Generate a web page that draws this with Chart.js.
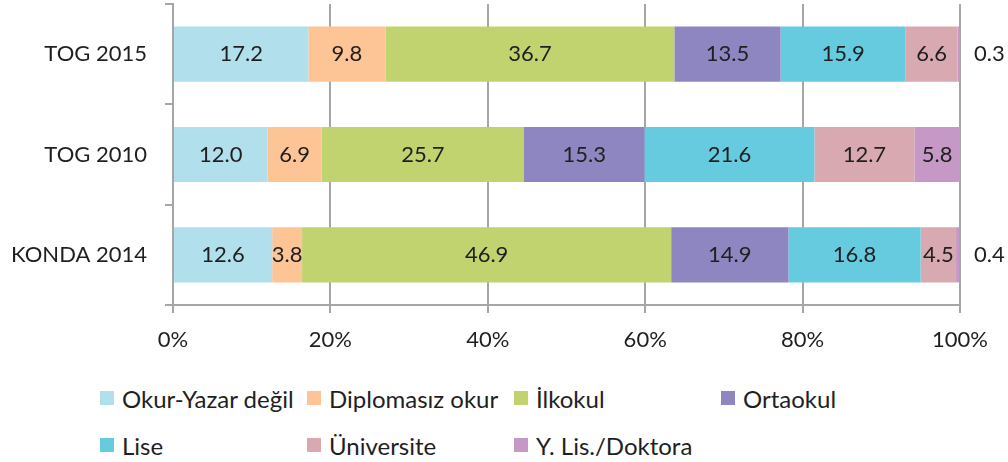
<!DOCTYPE html>
<html>
<head>
<meta charset="utf-8">
<script src="https://cdn.jsdelivr.net/npm/chart.js@4"></script>
<style>
  body { margin: 0; background: #fff; }
  #wrap { position: relative; width: 1008px; height: 462px; }
  #chart-box { position: absolute; left: 0; top: 0; width: 1008px; height: 370px; }
  .leg { position: absolute; font-family: Lato, sans-serif; font-size: 24px; color: #1f1f1f;
         display: flex; align-items: center; white-space: nowrap; height: 30px; }
  .leg i { display: inline-block; width: 14px; height: 14px; margin-right: 8px; }
</style>
</head>
<body>
<div id="wrap">
  <div id="chart-box"><canvas id="bar-chart"></canvas></div>
  <div id="legend"></div>
</div>
<script>
const categories = ["TOG 2015", "TOG 2010", "KONDA 2014"];
const seriesNames = ["Okur-Yazar değil", "Diplomasız okur", "İlkokul", "Ortaokul", "Lise", "Üniversite", "Y. Lis./Doktora"];
const okurYazarDegil = [17.2, 12.0, 12.6];
const diplomasizOkur = [9.8, 6.9, 3.8];
const ilkokul = [36.7, 25.7, 46.9];
const ortaokul = [13.5, 15.3, 14.9];
const lise = [15.9, 21.6, 16.8];
const universite = [6.6, 12.7, 4.5];
const yLisDoktora = [0.3, 5.8, 0.4];
const xTicks = [0, 20, 40, 60, 80, 100];

const colors = ["#b1dfeb", "#fdc496", "#c0d36e", "#8e86c0", "#66cbdf", "#d9a9b1", "#c698c6"];
const seriesValues = [okurYazarDegil, diplomasizOkur, ilkokul, ortaokul, lise, universite, yLisDoktora];

const gray = "#a6a6a6";
const textColor = "#1f1f1f";
const fontFamily = "Lato, sans-serif";

// labels inside each segment, tiny ones go to the right of the bar
const segmentLabels = {
  id: "segmentLabels",
  afterDatasetsDraw(chart) {
    const ctx = chart.ctx;
    ctx.save();
    ctx.font = "22px " + fontFamily;
    ctx.fillStyle = textColor;
    ctx.textBaseline = "middle";
    chart.data.datasets.forEach((ds, i) => {
      const meta = chart.getDatasetMeta(i);
      meta.data.forEach((bar, j) => {
        const w = Math.abs(bar.x - bar.base);
        const txt = ds.data[j].toFixed(1);
        if (w < 10) {
          ctx.textAlign = "left";
          ctx.fillText(txt, chart.chartArea.right + 14, bar.y);
        } else {
          ctx.textAlign = "center";
          ctx.fillText(txt, (bar.x + bar.base) / 2, bar.y);
        }
      });
    });
    ctx.restore();
  }
};

const config = {
  type: "bar",
  data: {
    labels: categories,
    datasets: seriesNames.map((name, i) => ({
      label: name,
      data: seriesValues[i],
      backgroundColor: colors[i],
      borderWidth: 0,
      barPercentage: 0.55,
      categoryPercentage: 1,
    })),
  },
  options: {
    indexAxis: "y",
    animation: false,
    responsive: true,
    maintainAspectRatio: false,
    layout: { padding: { top: 4, right: 48, left: 0, bottom: 0 } },
    plugins: {
      legend: { display: false },
      tooltip: { enabled: false },
    },
    scales: {
      x: {
        stacked: true,
        min: 0,
        max: 100,
        afterBuildTicks: (scale) => { scale.ticks = xTicks.map(v => ({ value: v })); },
        ticks: {
          callback: (v) => v + "%",
          font: { family: fontFamily, size: 22 },
          color: textColor,
          padding: 14,
          maxRotation: 0,
        },
        grid: { color: gray, lineWidth: 2, tickLength: 8 },
        border: { display: true, color: gray, width: 2 },
        afterFit: (scale) => { scale.height = 65; },
      },
      y: {
        stacked: true,
        ticks: {
          font: { family: fontFamily, size: 22 },
          color: textColor,
          padding: 18,
        },
        grid: { drawOnChartArea: false, color: gray, lineWidth: 2, tickLength: 8 },
        border: { display: true, color: gray, width: 2 },
        afterFit: (scale) => {
          scale.width = 173;
          // don't let label padding push the plot area down
          scale.paddingTop = 0;
          scale.paddingBottom = 0;
        },
      },
    },
  },
  plugins: [segmentLabels],
};

new Chart(document.getElementById("bar-chart").getContext("2d"), config);

// grid-style legend like the original
const legCols = [100, 307, 514, 721];
const legRows = [398, 445];
const legend = document.getElementById("legend");
seriesNames.forEach((name, i) => {
  const el = document.createElement("div");
  el.className = "leg";
  el.style.left = legCols[i % 4] + "px";
  el.style.top = (legRows[Math.floor(i / 4)] - 15) + "px";
  el.innerHTML = '<i style="background:' + colors[i] + '"></i>';
  el.appendChild(document.createTextNode(name));
  legend.appendChild(el);
});
</script>
</body>
</html>
